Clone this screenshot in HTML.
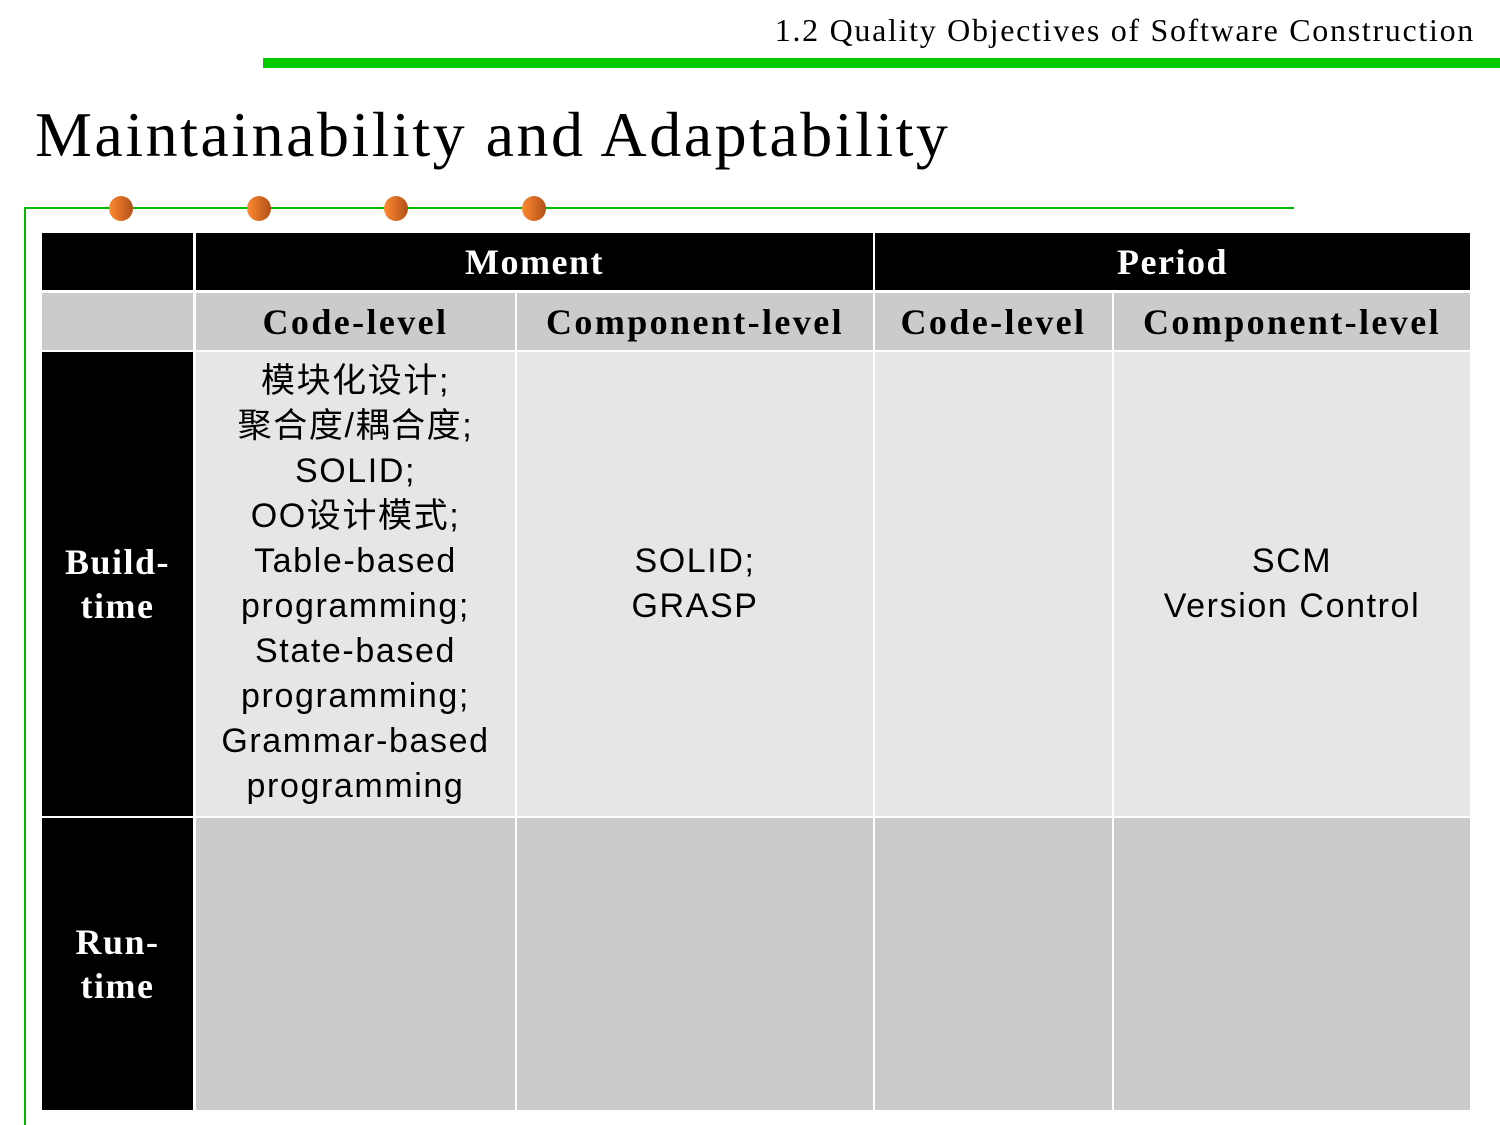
<!DOCTYPE html>
<html><head><meta charset="utf-8"><style>
body{margin:0;width:1500px;height:1125px;background:#fff;position:relative;overflow:hidden;font-family:"Liberation Serif","Noto Serif CJK SC",serif}
.a{position:absolute}
.c{position:absolute;display:flex;align-items:center;justify-content:center;text-align:center;box-sizing:border-box}
.h{background:#000;color:#fff;font-weight:bold;font-size:36px;letter-spacing:1.5px}
.g{background:#cbcbcb;font-weight:bold;font-size:36px;color:#000;letter-spacing:2.4px}
.l{background:#e6e6e6;font-size:34px;line-height:45px;color:#000;letter-spacing:1.6px;font-family:"Liberation Sans","Noto Sans CJK SC",sans-serif}
.d{background:#cbcbcb}
.dot{position:absolute;width:24px;height:25px;border-radius:50%;background:linear-gradient(90deg,#ff8a30,#b05018);top:196px}
</style></head><body>
<div class="a" style="right:25px;top:12px;font-size:32px;letter-spacing:1.7px">1.2 Quality Objectives of Software Construction</div>
<div class="a" style="left:263px;top:58px;width:1237px;height:10px;background:#00cc00"></div>
<div class="a" style="left:35px;top:98px;font-size:64px;letter-spacing:2.5px">Maintainability and Adaptability</div>
<div class="a" style="left:24px;top:207px;width:1270px;height:2px;background:#00bb00"></div>
<div class="a" style="left:24px;top:207px;width:2px;height:918px;background:#00bb00"></div>
<div class="dot" style="left:109px"></div><div class="dot" style="left:247px"></div><div class="dot" style="left:384px"></div><div class="dot" style="left:522px"></div>

<div class="c h" style="left:42px;top:233px;width:151px;height:57px"></div>
<div class="c h" style="left:196px;top:233px;width:677px;height:57px">Moment</div>
<div class="c h" style="left:875px;top:233px;width:595px;height:57px">Period</div>

<div class="c g" style="left:42px;top:293px;width:151px;height:57px"></div>
<div class="c g" style="left:196px;top:293px;width:319px;height:57px">Code-level</div>
<div class="c g" style="left:517px;top:293px;width:356px;height:57px">Component-level</div>
<div class="c g" style="left:875px;top:293px;width:237px;height:57px">Code-level</div>
<div class="c g" style="left:1114px;top:293px;width:356px;height:57px">Component-level</div>

<div class="c h" style="left:42px;top:352px;width:151px;height:464px;line-height:44px">Build-<br>time</div>
<div class="c l" style="left:196px;top:352px;width:319px;height:464px">模块化设计;<br>聚合度/耦合度;<br>SOLID;<br>OO设计模式;<br>Table-based<br>programming;<br>State-based<br>programming;<br>Grammar-based<br>programming</div>
<div class="c l" style="left:517px;top:352px;width:356px;height:464px">SOLID;<br>GRASP</div>
<div class="c l" style="left:875px;top:352px;width:237px;height:464px"></div>
<div class="c l" style="left:1114px;top:352px;width:356px;height:464px">SCM<br>Version Control</div>

<div class="c h" style="left:42px;top:818px;width:151px;height:292px;line-height:44px">Run-<br>time</div>
<div class="c d" style="left:196px;top:818px;width:319px;height:292px"></div>
<div class="c d" style="left:517px;top:818px;width:356px;height:292px"></div>
<div class="c d" style="left:875px;top:818px;width:237px;height:292px"></div>
<div class="c d" style="left:1114px;top:818px;width:356px;height:292px"></div>
</body></html>
